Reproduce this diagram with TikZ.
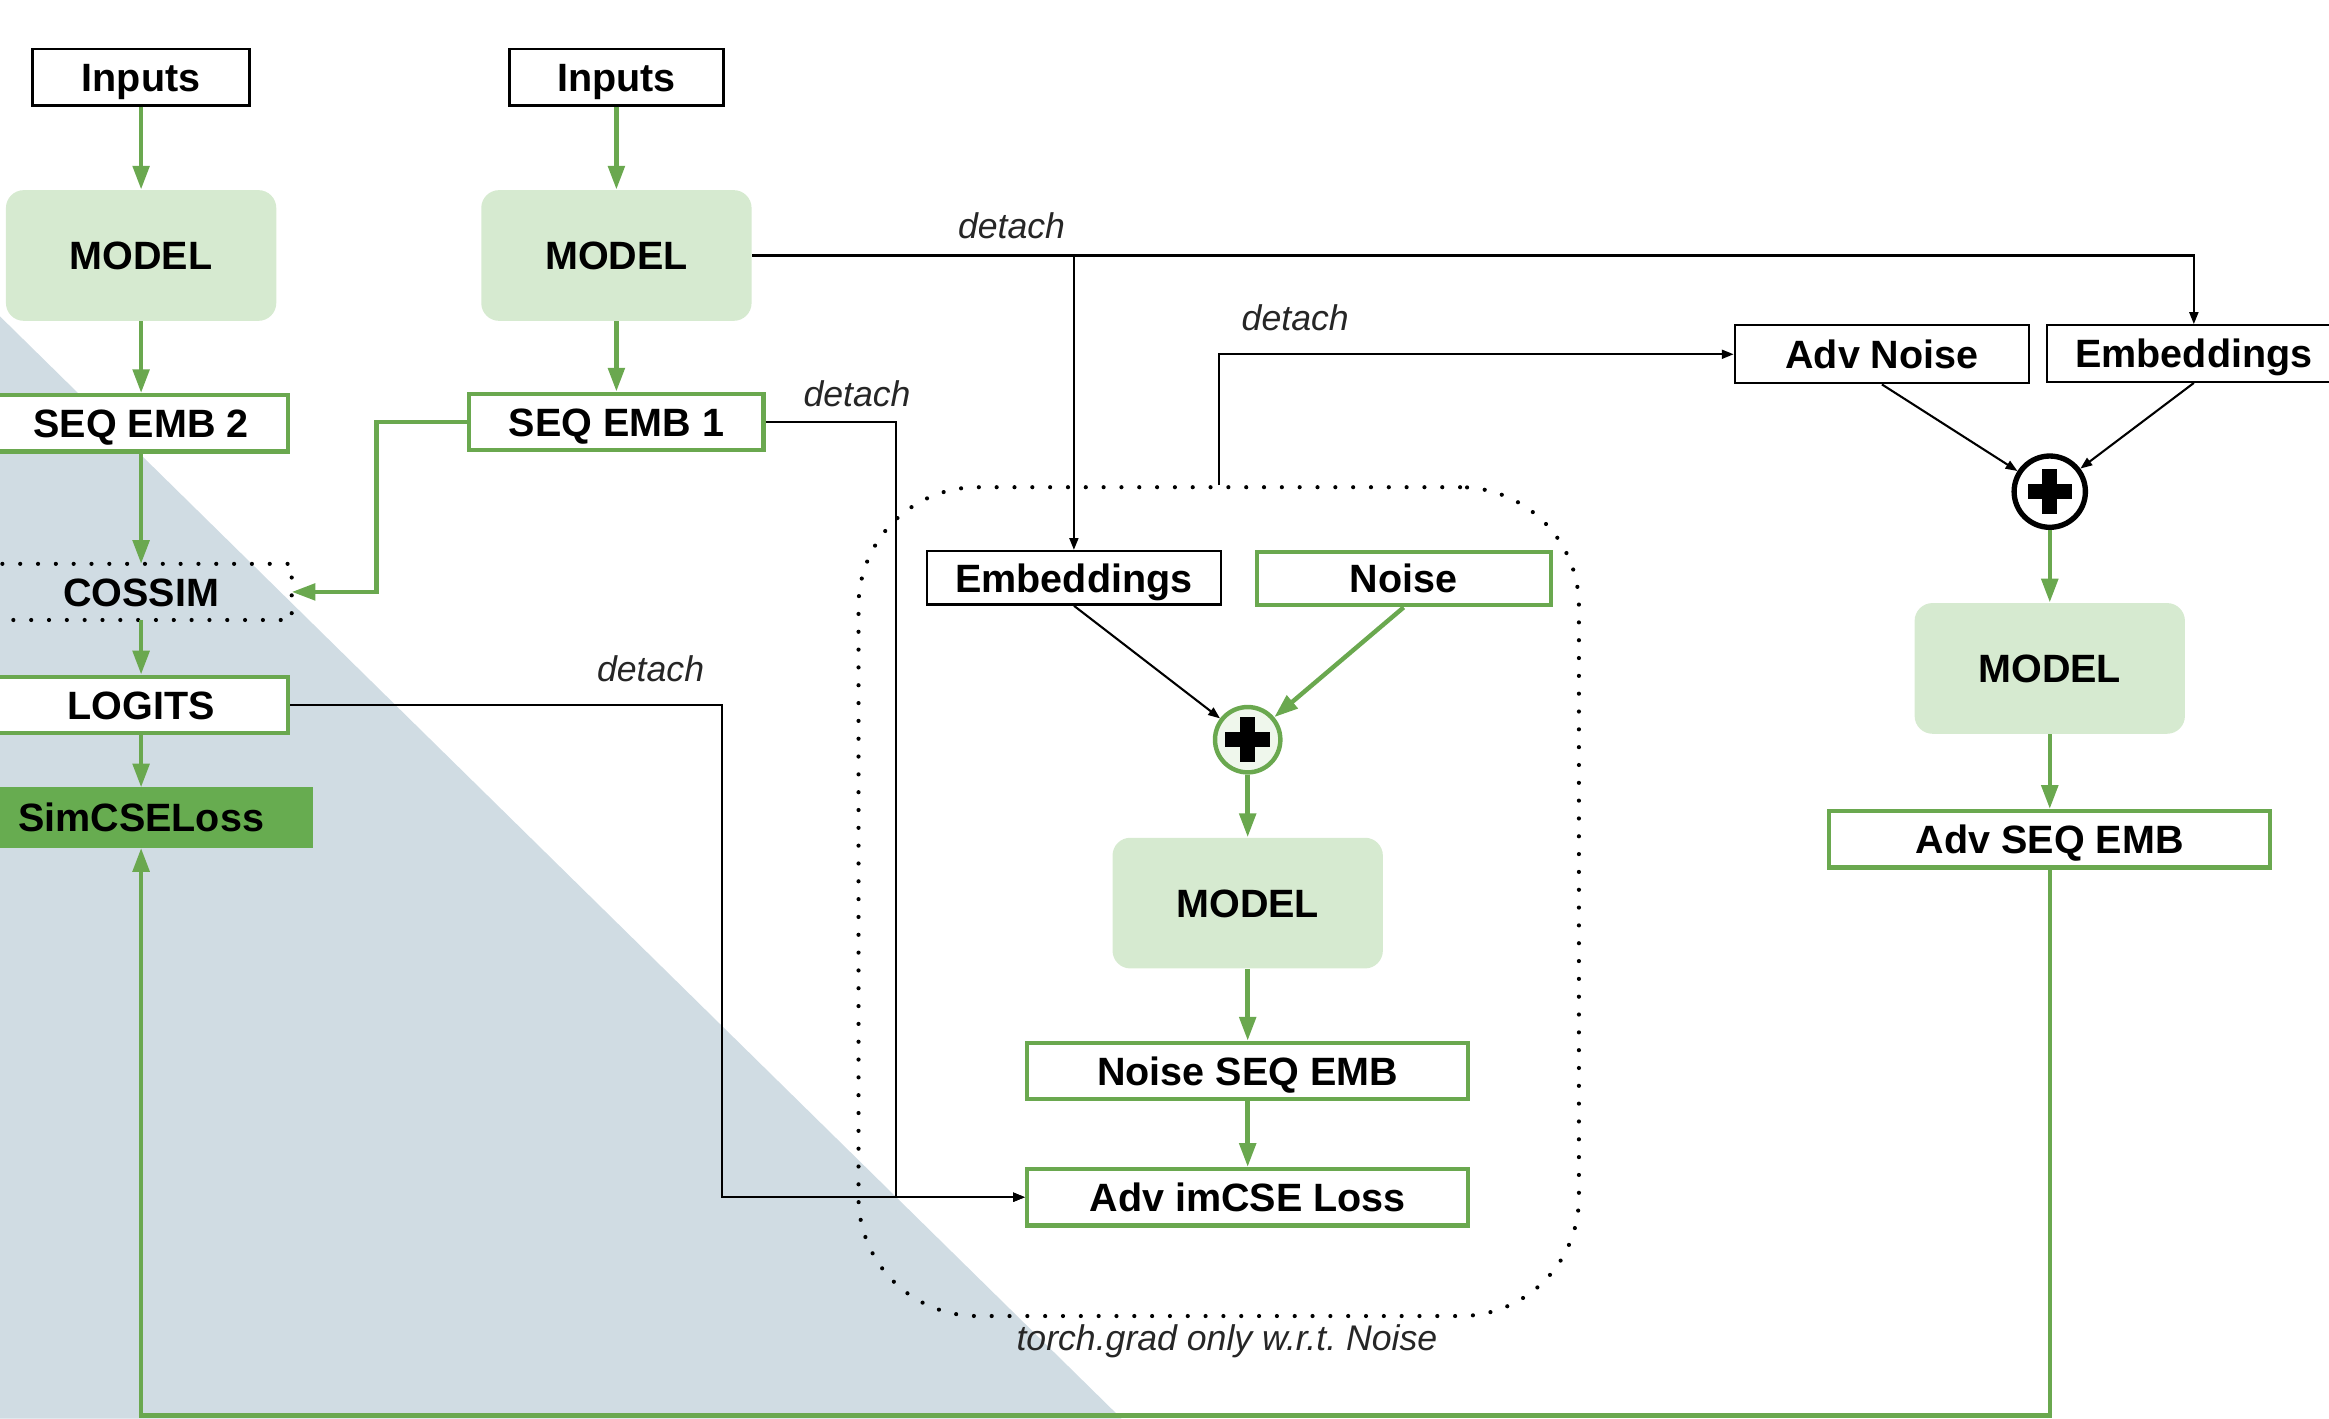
\documentclass[tikz,border=0pt]{standalone}
\usepackage{fontspec}
\setmainfont{Liberation Sans}
\usetikzlibrary{arrows.meta,calc}

\definecolor{lgreen}{RGB}{106,168,79}
\definecolor{mfill}{RGB}{214,234,208}
\definecolor{lossfill}{RGB}{103,172,80}
\definecolor{bgblue}{RGB}{208,220,227}

\begin{document}
\begin{tikzpicture}[x=0.5pt,y=-0.5pt,
  lbl/.style={font=\fontsize{13.3}{16}\selectfont\bfseries, inner sep=0pt, align=center,
              text height=9.6pt, text depth=0pt},
  bbox/.style={lbl, draw=black, line width=0.8pt, fill=white, minimum height=19pt},
  gbox/.style={lbl, draw=lgreen, line width=1.4pt, fill=white, minimum height=19pt},
  modelbox/.style={lbl, fill=mfill, rounded corners=6pt, minimum width=91pt, minimum height=44pt},
  plussign/.style={path picture={
      \fill[black] (path picture bounding box.center) ++(-7.5pt,-2.5pt) rectangle ++(15pt,5pt);
      \fill[black] (path picture bounding box.center) ++(-2.5pt,-7.5pt) rectangle ++(5pt,15pt);}},
  sumnode/.style={circle, inner sep=0pt, minimum size=#1, plussign},
  gline/.style={draw=lgreen, line width=1.5pt},
  garrow/.style={gline, -{Triangle[length=8pt,width=5.5pt]}},
  barrow/.style={draw=black, line width=0.7pt, -{Triangle[length=4pt,width=3pt]}},
  note/.style={font=\fontsize{12}{14}\selectfont\itshape, inner sep=0pt, text=black!85},
  dotline/.style={line width=1.4pt, dash pattern=on 0pt off 6pt, line cap=round}
]
\useasboundingbox (0,0) rectangle (1568,955);
\clip (0,0) rectangle (1568,955);

% blue-grey backdrop triangle
\fill[bgblue] (0,213) -- (755,955) -- (0,955) -- cycle;

% ---------- SimCSE branch (left) ----------
\node[bbox, minimum width=73pt] (in1) at (95,52) {Inputs};
\node[modelbox] (m1) at (95,172) {MODEL};
\node[gbox, minimum width=99pt] (se2) at (95,285) {SEQ EMB 2};
\node[lbl, minimum width=101pt, minimum height=18.5pt] (cos) at (95,398.5) {COSSIM};
\draw[dotline] ([xshift=-20pt]cos.north west) -- (cos.north east) -- (cos.south east) -- ([xshift=-20pt]cos.south west);
\node[gbox, minimum width=99pt] (lg) at (95,474.5) {LOGITS};
\node[lbl, draw=lossfill, fill=lossfill, line width=1.4pt, minimum width=114pt, minimum height=19pt] (sim) at (95,550.5) {SimCSELoss};

% ---------- second view ----------
\node[bbox, minimum width=72pt] (in2) at (415,52) {Inputs};
\node[modelbox] (m2) at (415,172) {MODEL};
\node[gbox, minimum width=99pt] (se1) at (415,284) {SEQ EMB 1};

% ---------- noise region ----------
\node[draw, dotline, rounded corners=40pt, minimum width=242.5pt, minimum height=279pt] (region) at (820.5,607) {};
\node[note] (tg) at (826,903) {torch.grad only w.r.t.\ Noise};
\node[bbox, minimum width=99pt, minimum height=18pt] (emb1) at (723,389) {Embeddings};
\node[gbox, minimum width=99pt, minimum height=18pt] (noise) at (945,389.5) {Noise};
\node[sumnode=22pt, draw=lgreen, fill=mfill!40, line width=1.5pt] (p1) at (840,498) {};
\node[modelbox] (m3) at (840,608) {MODEL};
\node[gbox, minimum width=148.5pt] (nse) at (840,721) {Noise SEQ EMB};
\node[gbox, minimum width=148.5pt] (loss) at (840,806) {Adv imCSE Loss};

% ---------- adversarial branch (right) ----------
\node[bbox, minimum width=99pt, minimum height=19.5pt] (advn) at (1267,238.5) {Adv Noise};
\node[bbox, minimum width=99pt] (emb2) at (1477,238) {Embeddings};
\node[sumnode=24pt, draw=black, fill=white, line width=1.8pt] (p2) at (1380,331) {};
\node[modelbox] (m4) at (1380,450) {MODEL};
\node[gbox, minimum width=148.5pt] (ase) at (1380,565) {Adv SEQ EMB};

% ---------- green flow ----------
\draw[garrow] (in1) -- (m1);
\draw[garrow] (m1) -- (se2);
\draw[garrow] (se2) -- (cos);
\draw[garrow] (se1.west) -- ++(-61,0) |- (cos.east);
\draw[garrow] (cos) -- (lg);
\draw[garrow] (lg) -- (sim);
\draw[garrow] (in2) -- (m2);
\draw[garrow] (m2) -- (se1);
\draw[garrow] (noise.south) -- (p1);
\draw[garrow] (p1) -- (m3);
\draw[garrow] (m3) -- (nse);
\draw[garrow] (nse) -- (loss);
\draw[garrow] (p2) -- (m4);
\draw[garrow] (m4) -- (ase);
\coordinate (bot) at (0,953);
\draw[garrow] (ase.south) -- (ase.south |- bot) -| (sim.south);

% ---------- detached (black) flow ----------
\coordinate (j1) at (emb1.north |- m2.east);
\draw[barrow] (m2.east) -| (emb2.north);
\draw[barrow] (j1) -- (emb1.north);
\node[note] at (681,152) {detach};

\draw[barrow] (region.north) |- (advn.west);
\node[note] at (872,214) {detach};

\coordinate (j2) at (603,0);
\draw[barrow] (se1.east) -| (j2 |- loss.west) -- (loss.west);
\node[note] at (577,265) {detach};

\coordinate (j3) at (486,0);
\draw[barrow] (lg.east) -| (j3 |- loss.west) -- (loss.west);
\node[note] at (438,450) {detach};

\draw[barrow] (emb1.south) -- (p1);
\draw[barrow] (advn.south) -- (p2);
\draw[barrow] (emb2.south) -- (p2);
\end{tikzpicture}
\end{document}
